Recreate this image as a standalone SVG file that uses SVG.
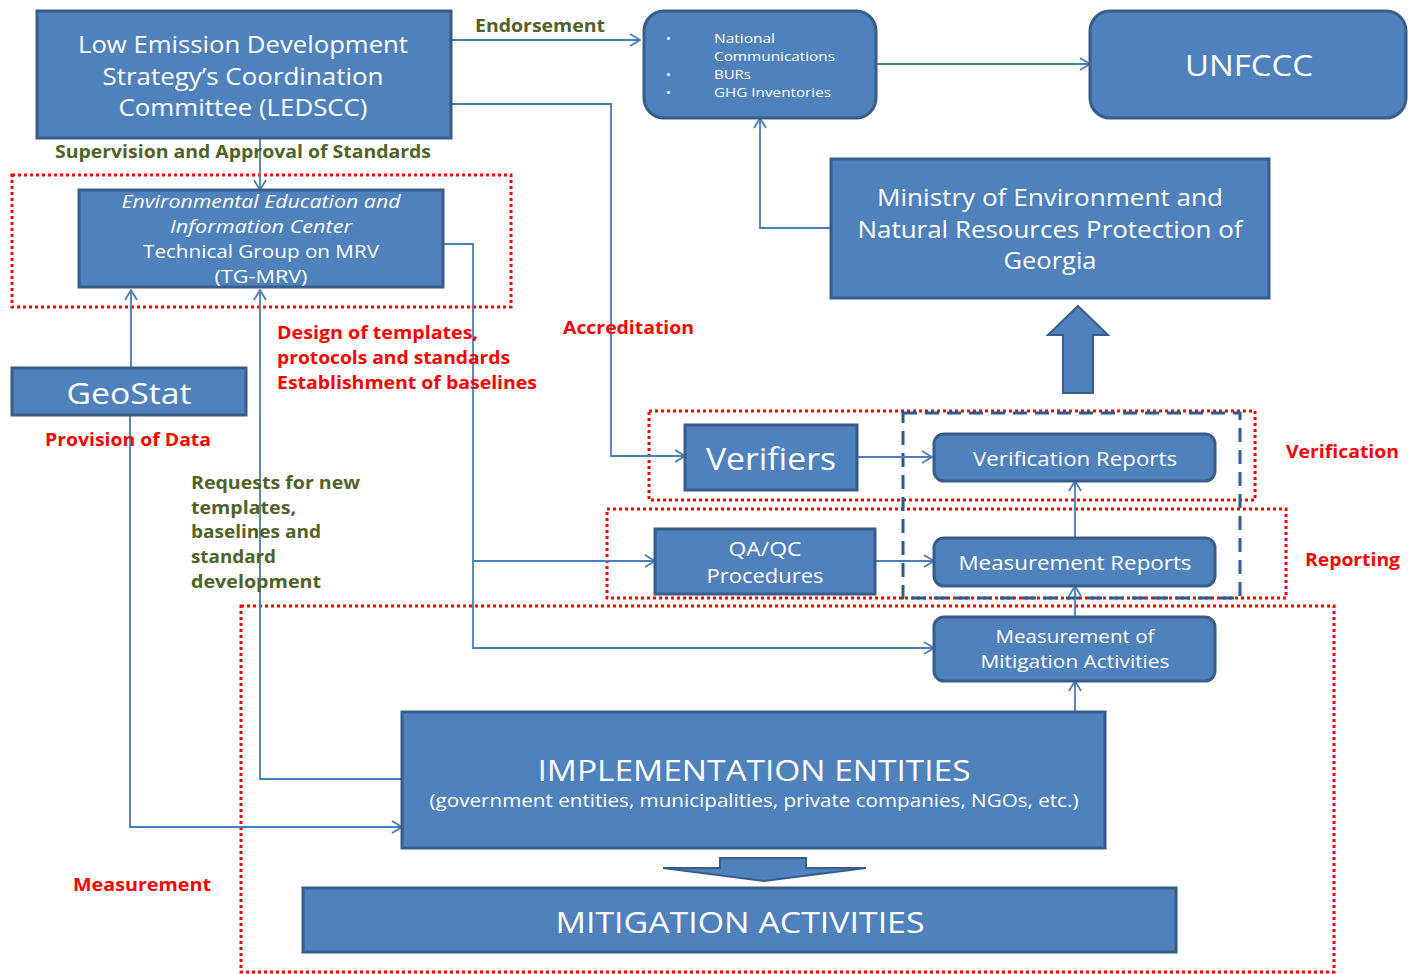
<svg xmlns="http://www.w3.org/2000/svg" width="1408" height="974" viewBox="0 0 1408 974">
<style>
.box{fill:#4F81BD;stroke:#385D8A;stroke-width:3}
text{font-family:"Open Sans","Liberation Sans",sans-serif}
.t{fill:#fff;text-anchor:middle;dominant-baseline:central}
.g{font-weight:bold;fill:#4F6228;font-size:17.5px;dominant-baseline:central}
.r{font-weight:bold;fill:#FF0000;font-size:17.5px;dominant-baseline:central}
.c{fill:none;stroke:#4A7EBB;stroke-width:1.8}
.red{fill:none;stroke:#FF0000;stroke-width:3;stroke-dasharray:3 3}
.dash{fill:none;stroke:#2E5B8E;stroke-width:3;stroke-dasharray:14 8}
.blk{fill:#4F81BD;stroke:#385D8A;stroke-width:2}
</style>
<defs>
<marker id="a" markerWidth="12" markerHeight="14" refX="11" refY="7" orient="auto" markerUnits="userSpaceOnUse">
<path d="M1,1 L11,7 L1,13" fill="none" stroke="#4A7EBB" stroke-width="1.8"/>
</marker>
</defs>
<rect width="1408" height="974" fill="#fff"/>

<g id="groups">
<rect class="red" x="12" y="175" width="499" height="132"/>
<rect class="red" x="649" y="411" width="606" height="89"/>
<rect class="red" x="607" y="509" width="679" height="89"/>
<rect class="red" x="241" y="606" width="1093" height="366"/>
<rect class="dash" x="903" y="413" width="337" height="185"/>
</g>

<g id="connectors">
<path class="c" d="M451,40 H640" marker-end="url(#a)"/>
<path class="c" d="M876,64 H1090" marker-end="url(#a)"/>
<path class="c" d="M451,104 H611 V456 H685" marker-end="url(#a)"/>
<path class="c" d="M831,228 H760 V118" marker-end="url(#a)"/>
<path class="c" d="M260,138 V190" marker-end="url(#a)"/>
<path class="c" d="M131,368 V290" marker-end="url(#a)"/>
<path class="c" d="M130,415 V827 H402" marker-end="url(#a)"/>
<path class="c" d="M402,779 H260 V290" marker-end="url(#a)"/>
<path class="c" d="M443,244 H473 V648 H934" marker-end="url(#a)"/>
<path class="c" d="M473,561 H655" marker-end="url(#a)"/>
<path class="c" d="M857,457 H932" marker-end="url(#a)"/>
<path class="c" d="M875,561 H934" marker-end="url(#a)"/>
<path class="c" d="M1075,538 V481" marker-end="url(#a)"/>
<path class="c" d="M1075,617 V586" marker-end="url(#a)"/>
<path class="c" d="M1075,712 V681" marker-end="url(#a)"/>
<path class="blk" d="M1078,306 L1108,335 H1093 V393 H1063 V335 H1048 Z"/>
<path class="blk" d="M720,858 H806 V868 H866 L764,881 L663,868 H720 Z"/>
</g>

<g id="ledscc">
<rect class="box" x="37" y="11" width="414" height="127"/>
<text class="t" font-size="23" x="243" y="44" textLength="330" lengthAdjust="spacingAndGlyphs">Low Emission Development</text>
<text class="t" font-size="23" x="243" y="76" textLength="281" lengthAdjust="spacingAndGlyphs">Strategy’s Coordination</text>
<text class="t" font-size="23" x="243" y="107" textLength="249" lengthAdjust="spacingAndGlyphs">Committee (LEDSCC)</text>
</g>

<g id="reports">
<rect class="box" x="644" y="11" width="232" height="107" rx="20"/>
<g font-size="13" fill="#fff" dominant-baseline="central">
<text x="666" y="38">•</text><text x="714" y="38" textLength="61" lengthAdjust="spacingAndGlyphs">National</text>
<text x="714" y="56" textLength="121" lengthAdjust="spacingAndGlyphs">Communications</text>
<text x="666" y="74">•</text><text x="714" y="74" textLength="37" lengthAdjust="spacingAndGlyphs">BURs</text>
<text x="666" y="92">•</text><text x="714" y="92" textLength="117" lengthAdjust="spacingAndGlyphs">GHG Inventories</text>
</g>
</g>

<g id="unfccc">
<rect class="box" x="1090" y="11" width="316" height="107" rx="20"/>
<text class="t" font-size="30" x="1249" y="64" textLength="128" lengthAdjust="spacingAndGlyphs">UNFCCC</text>
</g>

<g id="ministry">
<rect class="box" x="831" y="159" width="438" height="139"/>
<text class="t" font-size="23" x="1050" y="197" textLength="346" lengthAdjust="spacingAndGlyphs">Ministry of Environment and</text>
<text class="t" font-size="23" x="1050" y="229" textLength="385" lengthAdjust="spacingAndGlyphs">Natural Resources Protection of</text>
<text class="t" font-size="23" x="1050" y="260" textLength="93" lengthAdjust="spacingAndGlyphs">Georgia</text>
</g>

<g id="tgmrv">
<rect class="box" x="79" y="190" width="364" height="97"/>
<text class="t" font-size="18" x="261" y="201" font-style="italic" textLength="279" lengthAdjust="spacingAndGlyphs">Environmental Education and</text>
<text class="t" font-size="18" x="261" y="226" font-style="italic" textLength="182" lengthAdjust="spacingAndGlyphs">Information Center</text>
<text class="t" font-size="18" x="261" y="251" textLength="236" lengthAdjust="spacingAndGlyphs">Technical Group on MRV</text>
<text class="t" font-size="18" x="261" y="276" textLength="93" lengthAdjust="spacingAndGlyphs">(TG-MRV)</text>
</g>

<g id="geostat">
<rect class="box" x="12" y="368" width="234" height="47"/>
<text class="t" font-size="30" x="129" y="392" textLength="125" lengthAdjust="spacingAndGlyphs">GeoStat</text>
</g>

<g id="verifiers">
<rect class="box" x="685" y="425" width="172" height="65"/>
<text class="t" font-size="31" x="771" y="458" textLength="130" lengthAdjust="spacingAndGlyphs">Verifiers</text>
</g>

<g id="verification-reports">
<rect class="box" x="934" y="434" width="281" height="47" rx="10"/>
<text class="t" font-size="20" x="1075" y="458" textLength="204" lengthAdjust="spacingAndGlyphs">Verification Reports</text>
</g>

<g id="qaqc">
<rect class="box" x="655" y="529" width="220" height="65"/>
<text class="t" font-size="19.5" x="765" y="548" textLength="73" lengthAdjust="spacingAndGlyphs">QA/QC</text>
<text class="t" font-size="19.5" x="765" y="575" textLength="117" lengthAdjust="spacingAndGlyphs">Procedures</text>
</g>

<g id="measurement-reports">
<rect class="box" x="934" y="538" width="281" height="48" rx="10"/>
<text class="t" font-size="20" x="1075" y="562" textLength="233" lengthAdjust="spacingAndGlyphs">Measurement Reports</text>
</g>

<g id="measurement-mitigation">
<rect class="box" x="934" y="617" width="281" height="64" rx="10"/>
<text class="t" font-size="18" x="1075" y="636" textLength="159" lengthAdjust="spacingAndGlyphs">Measurement of</text>
<text class="t" font-size="18" x="1075" y="661" textLength="189" lengthAdjust="spacingAndGlyphs">Mitigation Activities</text>
</g>

<g id="implementation">
<rect class="box" x="402" y="712" width="703" height="136"/>
<text class="t" font-size="30" x="754" y="769" textLength="433" lengthAdjust="spacingAndGlyphs">IMPLEMENTATION ENTITIES</text>
<text class="t" font-size="18" x="754" y="800" textLength="649" lengthAdjust="spacingAndGlyphs">(government entities, municipalities, private companies, NGOs, etc.)</text>
</g>

<g id="mitigation">
<rect class="box" x="303" y="888" width="873" height="64"/>
<text class="t" font-size="30" x="740" y="921" textLength="369" lengthAdjust="spacingAndGlyphs">MITIGATION ACTIVITIES</text>
</g>

<g id="labels">
<text class="g" x="475" y="25" textLength="130" lengthAdjust="spacingAndGlyphs">Endorsement</text>
<text class="g" x="55" y="151" textLength="376" lengthAdjust="spacingAndGlyphs">Supervision and Approval of Standards</text>
<text class="r" x="277" y="332" textLength="201" lengthAdjust="spacingAndGlyphs">Design of templates,</text>
<text class="r" x="277" y="357" textLength="233" lengthAdjust="spacingAndGlyphs">protocols and standards</text>
<text class="r" x="277" y="382" textLength="260" lengthAdjust="spacingAndGlyphs">Establishment of baselines</text>
<text class="r" x="563" y="327" textLength="131" lengthAdjust="spacingAndGlyphs">Accreditation</text>
<text class="r" x="45" y="439" textLength="166" lengthAdjust="spacingAndGlyphs">Provision of Data</text>
<text class="g" x="191" y="482" textLength="169" lengthAdjust="spacingAndGlyphs">Requests for new</text>
<text class="g" x="191" y="507" textLength="105" lengthAdjust="spacingAndGlyphs">templates,</text>
<text class="g" x="191" y="531" textLength="130" lengthAdjust="spacingAndGlyphs">baselines and</text>
<text class="g" x="191" y="556" textLength="85" lengthAdjust="spacingAndGlyphs">standard</text>
<text class="g" x="191" y="581" textLength="130" lengthAdjust="spacingAndGlyphs">development</text>
<text class="r" x="1286" y="451" textLength="113" lengthAdjust="spacingAndGlyphs">Verification</text>
<text class="r" x="1305" y="559" textLength="95" lengthAdjust="spacingAndGlyphs">Reporting</text>
<text class="r" x="73" y="884" textLength="138" lengthAdjust="spacingAndGlyphs">Measurement</text>
</g>
</svg>
